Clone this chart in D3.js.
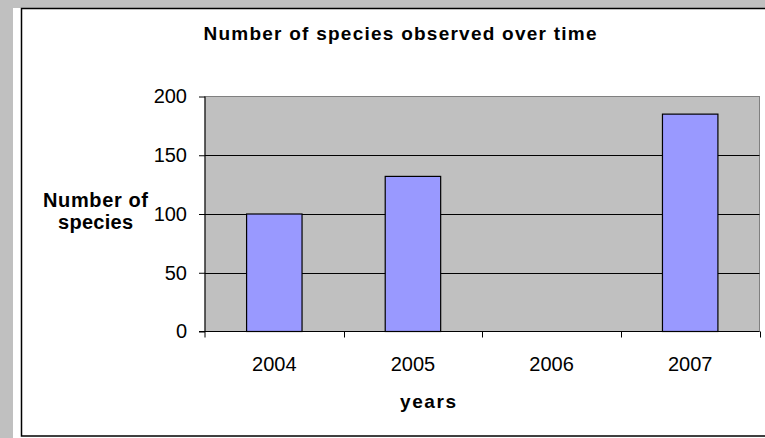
<!DOCTYPE html>
<html><head><meta charset="utf-8">
<script src="https://cdn.jsdelivr.net/npm/d3@7"></script>
<style>body{margin:0;background:#c0c0c0;}svg{display:block;}</style>
</head><body>
<svg id="c" width="765" height="438"></svg>
<script>
const categories = ["2004", "2005", "2006", "2007"];
const values = [100, 132, 0, 185];
const yTicks = [0, 50, 100, 150, 200];
const title = "Number of species observed over time";
const yTitle = ["Number of", "species"];
const xTitle = "years";

const svg = d3.select("#c");
const W = 765, H = 438;
svg.append("rect").attr("width", W).attr("height", H).attr("fill", "#c0c0c0");
svg.append("rect").attr("x", 13).attr("y", 8).attr("width", W).attr("height", H).attr("fill", "#fff");
svg.append("rect").attr("x", 21.5).attr("y", 8.5).attr("width", W).attr("height", 427.5)
  .attr("fill", "none").attr("stroke", "#000").attr("stroke-width", 1.5);

const pl = 205, pr = 759.5, pt = 96.5, pb = 331.5;
const x = d3.scaleBand().domain(categories).range([pl, pr]).padding(0);
const y = d3.scaleLinear().domain([0, 200]).range([pb, pt]);

svg.append("rect").attr("x", pl).attr("y", pt).attr("width", pr - pl).attr("height", pb - pt)
  .attr("fill", "#c0c0c0").attr("stroke", "#808080").attr("stroke-width", 1);

// gridlines
svg.append("g").selectAll("line").data(yTicks.filter(d => d > 0 && d < 200)).join("line")
  .attr("x1", pl).attr("x2", pr).attr("y1", d => Math.round(y(d)) + 0.5).attr("y2", d => Math.round(y(d)) + 0.5)
  .attr("stroke", "#000").attr("stroke-width", 1);

// bars
const bw = x.bandwidth() * 0.4;
svg.append("g").selectAll("rect").data(values.map((v, i) => ({c: categories[i], v})).filter(d => d.v > 0)).join("rect")
  .attr("x", d => x(d.c) + (x.bandwidth() - bw) / 2)
  .attr("y", d => y(d.v))
  .attr("width", bw)
  .attr("height", d => y(0) - y(d.v))
  .attr("fill", "#9999ff").attr("stroke", "#000").attr("stroke-width", 1.2);

const font = "Arial, 'Liberation Sans', sans-serif";
// y axis
const ya = d3.axisLeft(y).tickValues(yTicks).tickSize(6).tickPadding(12);
const gy = svg.append("g").attr("transform", `translate(${pl},0)`).call(ya);
gy.select(".domain").attr("stroke", "#000").attr("d", `M0,${pt}V${pb + 6}`);
gy.selectAll(".tick line").attr("stroke", "#000");
gy.selectAll(".tick text").attr("font-family", font).attr("font-size", 20).attr("fill", "#000");

// x axis
const xb = d3.scaleLinear().domain([0, categories.length]).range([pl, pr]);
const gx = svg.append("g").attr("transform", `translate(0,${pb})`);
gx.append("line").attr("x1", pl - 6).attr("x2", pr).attr("y1", 0).attr("y2", 0).attr("stroke", "#000");
gx.selectAll("line.t").data(d3.range(1, categories.length + 1)).join("line").attr("class", "t")
  .attr("x1", d => Math.round(xb(d)) + 0.5).attr("x2", d => Math.round(xb(d)) + 0.5).attr("y1", 0).attr("y2", 6).attr("stroke", "#000");
gx.selectAll("text").data(categories).join("text")
  .attr("x", d => x(d) + x.bandwidth() / 2).attr("y", 39)
  .attr("text-anchor", "middle").attr("font-family", font).attr("font-size", 20).text(d => d);

// titles
svg.append("text").attr("x", 400).attr("y", 39.5).attr("text-anchor", "middle")
  .attr("font-family", font).attr("font-size", 19).attr("font-weight", "bold")
  .attr("textLength", 393).attr("lengthAdjust", "spacing").text(title);
svg.append("text").attr("x", 95.5).attr("y", 206.5).attr("text-anchor", "middle")
  .attr("font-family", font).attr("font-size", 20).attr("font-weight", "bold")
  .attr("textLength", 105).attr("lengthAdjust", "spacing").text(yTitle[0]);
svg.append("text").attr("x", 95.5).attr("y", 229).attr("text-anchor", "middle")
  .attr("font-family", font).attr("font-size", 20).attr("font-weight", "bold")
  .attr("textLength", 75).attr("lengthAdjust", "spacing").text(yTitle[1]);
svg.append("text").attr("x", 428).attr("y", 408).attr("text-anchor", "middle")
  .attr("font-family", font).attr("font-size", 19).attr("font-weight", "bold")
  .attr("textLength", 56).attr("lengthAdjust", "spacing").text(xTitle);
</script>
</body></html>
